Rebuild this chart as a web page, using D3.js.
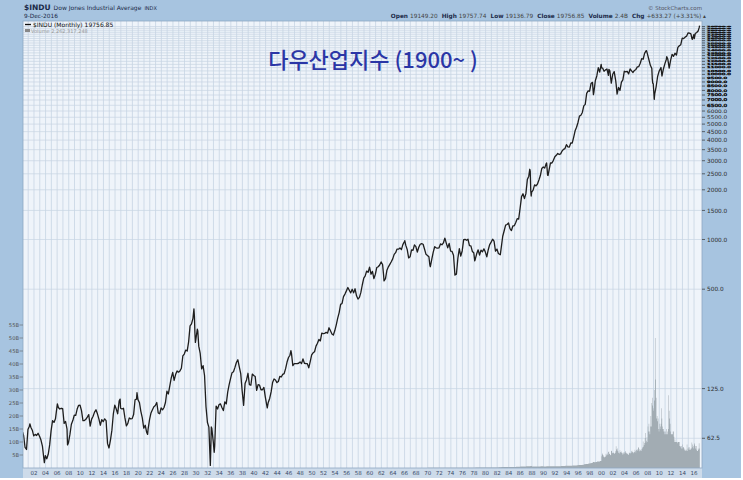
<!DOCTYPE html>
<html><head><meta charset="utf-8">
<script src="https://cdn.jsdelivr.net/npm/d3@7/dist/d3.min.js"></script>
<style>html,body{margin:0;padding:0;background:#fff;}svg{display:block;}</style>
</head><body><svg id="c" width="743" height="480"></svg>
<script>
// ---------- DATA ----------
const priceStartYear = 1900;
// quarter-end monthly closes (Mar, Jun, Sep, Dec), one row per year
const quarterlyCloses = [
  65.0, 55.0, 53.5, 70.7,     // 1900
  74.0, 73.0, 70.0, 64.6,     // 1901
  66.0, 65.0, 67.0, 64.3,     // 1902
  61.0, 56.0, 47.0, 49.1,     // 1903
  47.0, 50.0, 57.0, 69.6,     // 1904
  80.0, 78.0, 82.0, 96.2,     // 1905
  96.0, 94.0, 95.0, 94.4,     // 1906
  77.0, 79.0, 71.0, 58.8,     // 1907
  66.0, 76.0, 80.0, 86.2,     // 1908
  86.0, 94.0, 99.0, 99.1,     // 1909
  92.0, 80.0, 80.0, 81.4,     // 1910
  84.0, 87.0, 74.0, 81.7,     // 1911
  85.0, 90.0, 93.0, 87.9,     // 1912
  82.0, 75.0, 81.0, 78.8,     // 1913
  82.0, 80.0, 58.0, 54.6,     // 1914
  61.0, 70.0, 88.0, 99.2,     // 1915
  94.0, 88.0, 105.0, 95.0,    // 1916
  94.0, 95.0, 83.0, 74.4,     // 1917
  77.0, 83.0, 82.0, 82.2,     // 1918
  87.0, 107.0, 108.0, 107.2,  // 1919
  103.0, 91.0, 83.0, 72.0,    // 1920
  75.0, 68.0, 71.0, 81.1,     // 1921
  89.0, 93.0, 97.0, 98.7,     // 1922
  103.0, 89.0, 88.0, 95.5,    // 1923
  93.0, 96.0, 103.0, 120.5,   // 1924
  116.0, 130.0, 145.0, 156.7, // 1925
  140.0, 152.0, 160.0, 157.2, // 1926
  160.0, 166.0, 197.0, 202.4, // 1927
  214.0, 211.0, 240.0, 300.0, // 1928
  308.0, 333.0, 343.0, 248.5, // 1929
  286.0, 226.0, 204.0, 164.6, // 1930
  172.0, 150.0, 97.0, 77.9,   // 1931
  73.0, 42.8, 72.0, 59.9,     // 1932
  55.7, 98.0, 94.0, 99.9,     // 1933
  101.0, 96.0, 92.0, 104.0,   // 1934
  101.0, 119.0, 132.0, 144.1, // 1935
  156.0, 158.0, 168.0, 179.9, // 1936
  187.0, 169.0, 154.0, 120.9, // 1937
  99.0, 134.0, 141.0, 154.8,  // 1938
  132.0, 131.0, 153.0, 150.2, // 1939
  148.0, 122.0, 132.0, 131.1, // 1940
  123.0, 123.0, 127.0, 111.0, // 1941
  99.0, 103.0, 109.0, 119.4,  // 1942
  136.0, 143.0, 141.0, 135.9, // 1943
  138.0, 148.0, 147.0, 152.3, // 1944
  154.0, 165.0, 181.0, 192.9, // 1945
  199.0, 206.0, 172.0, 177.2, // 1946
  177.0, 177.0, 178.0, 181.2, // 1947
  177.0, 189.0, 178.0, 177.3, // 1948
  177.0, 167.0, 182.0, 200.1, // 1949
  206.0, 209.0, 226.0, 235.4, // 1950
  248.0, 243.0, 271.0, 269.2, // 1951
  270.0, 274.0, 271.0, 291.9, // 1952
  280.0, 268.0, 264.0, 280.9, // 1953
  304.0, 334.0, 361.0, 404.4, // 1954
  410.0, 451.0, 467.0, 488.4, // 1955
  512.0, 493.0, 475.0, 499.5, // 1956
  475.0, 503.0, 456.0, 435.7, // 1957
  446.0, 478.0, 532.0, 583.7, // 1958
  602.0, 644.0, 632.0, 679.4, // 1959
  616.0, 641.0, 580.0, 615.9, // 1960
  677.0, 684.0, 701.0, 731.1, // 1961
  706.0, 561.0, 579.0, 652.1, // 1962
  683.0, 707.0, 733.0, 763.0, // 1963
  813.0, 832.0, 875.0, 874.1, // 1964
  889.0, 868.0, 931.0, 969.3, // 1965
  924.0, 870.0, 774.0, 785.7, // 1966
  865.0, 860.0, 927.0, 905.1, // 1967
  840.0, 898.0, 936.0, 943.8, // 1968
  936.0, 873.0, 813.0, 800.4, // 1969
  786.0, 684.0, 761.0, 838.9, // 1970
  904.0, 891.0, 887.0, 890.2, // 1971
  940.0, 929.0, 953.0, 1020.0,// 1972
  951.0, 891.0, 947.0, 850.9, // 1973
  847.0, 802.0, 608.0, 616.2, // 1974
  769.0, 879.0, 794.0, 852.4, // 1975
  999.0, 1003.0, 990.0, 1004.7, // 1976
  919.0, 916.0, 847.0, 831.2, // 1977
  757.0, 819.0, 866.0, 805.0, // 1978
  862.0, 842.0, 878.0, 838.7, // 1979
  786.0, 867.0, 932.0, 964.0, // 1980
  1004.0, 977.0, 850.0, 875.0,   // 1981
  823.0, 812.0, 896.0, 1046.5,   // 1982
  1130.0, 1222.0, 1233.0, 1258.6,// 1983
  1165.0, 1133.0, 1207.0, 1211.6,// 1984
  1267.0, 1336.0, 1329.0, 1546.7,// 1985
  1819.0, 1893.0, 1768.0, 1896.0,// 1986
  2305.0, 2419.0, 2596.0, 1938.8,// 1987
  1989.0, 2142.0, 2113.0, 2168.6,// 1988
  2294.0, 2440.0, 2693.0, 2753.2,// 1989
  2707.0, 2881.0, 2453.0, 2633.7,// 1990
  2914.0, 2907.0, 3017.0, 3168.8,// 1991
  3236.0, 3319.0, 3272.0, 3301.1,// 1992
  3435.0, 3516.0, 3555.0, 3754.1,// 1993
  3636.0, 3625.0, 3843.0, 3834.4,// 1994
  4158.0, 4556.0, 4789.0, 5117.1,// 1995
  5587.0, 5655.0, 5882.0, 6448.3,// 1996
  6584.0, 7673.0, 7945.0, 7908.3,// 1997
  8800.0, 8952.0, 7843.0, 9181.4,// 1998
  9786.0, 10971.0, 10337.0, 11497.1, // 1999
  10922.0, 10448.0, 10651.0, 10786.9,// 2000
  9879.0, 10502.0, 8848.0, 10021.5,  // 2001
  10404.0, 9243.0, 7592.0, 8341.6,   // 2002
  7992.0, 8985.0, 9275.0, 10453.9,   // 2003
  10358.0, 10435.0, 10080.0, 10783.0,// 2004
  10504.0, 10275.0, 10569.0, 10717.5,// 2005
  11109.0, 11150.0, 11679.0, 12463.2,// 2006
  12354.0, 13409.0, 13896.0, 13264.8,// 2007
  12263.0, 11350.0, 10851.0, 8776.4, // 2008
  7609.0, 8447.0, 9712.0, 10428.0,   // 2009
  10857.0, 9774.0, 10788.0, 11577.5, // 2010
  12320.0, 12414.0, 10913.0, 12217.6,// 2011
  13212.0, 12880.0, 13437.0, 13104.1,// 2012
  14579.0, 14910.0, 15130.0, 16576.7,// 2013
  16458.0, 16827.0, 17043.0, 17823.1,// 2014
  17776.0, 17620.0, 16285.0, 17425.0,// 2015
  17685.0, 17930.0, 18308.0, 19756.85 // 2016
];
// additional monthly closes at turning points: [year, monthIndex, close]
const extraCloses = [
  [1900,0,68.1],[1901,3,76.5],[1903,9,44.5],[1906,0,101],[1907,9,57],
  [1914,6,71.4],[1916,10,108],[1919,9,118],[1921,7,66],
  [1929,7,380],[1929,9,273],[1929,10,238],[1930,3,279],
  [1932,6,54.3],[1932,7,73.2],[1933,1,51.4],[1942,3,95.4],[1946,4,212],
  [1962,4,613],[1966,0,984],[1970,4,700],[1973,0,999],[1974,10,619],
  [1978,1,742],[1982,6,809],[1987,7,2663],[1987,9,1994],[1987,10,1834],
  [1990,6,2905],[1990,9,2442],[1998,7,7539],[2000,0,10941],[2001,3,10735],
  [2002,6,8737],[2007,9,13930],[2008,9,9325],[2008,10,8829],[2009,1,7063],
  [2010,3,11009],[2011,3,12811],[2015,7,16528],[2016,0,16466],[2016,10,19124]
];
// volume, billions of shares per month
const volQuarterStart = 1970;
const volumeQuarterly = [
  0.06,0.06,0.07,0.07, 0.07,0.07,0.07,0.07, 0.07,0.08,0.07,0.08, 0.08,0.08,0.08,0.08, 0.08,0.08,0.09,0.09, // 1970-74
  0.10,0.10,0.10,0.11, 0.11,0.11,0.11,0.12, 0.12,0.12,0.13,0.13, 0.14,0.15,0.15,0.15, 0.15,0.16,0.17,0.17, // 1975-79
  0.20,0.20,0.22,0.22, 0.22,0.22,0.22,0.23, 0.24,0.25,0.32,0.34, 0.36,0.36,0.38,0.38, 0.38,0.36,0.38,0.40, // 1980-84
  0.42,0.44,0.44,0.50, 0.55,0.58,0.55,0.58, 0.70,0.65,0.68,0.80, 0.55,0.55,0.55,0.56, 0.60,0.62,0.64,0.66, // 1985-89
  0.62,0.62,0.64,0.64, 0.68,0.68,0.66,0.70, 0.70,0.70,0.70,0.72, 0.76,0.78,0.80,0.84, 0.86,0.84,0.84,0.86, // 1990-94
  0.92,0.98,1.00,1.05, 1.12,1.15,1.15,1.25, 1.40,1.50,1.55,1.75, 1.80,1.90,2.30,2.20, 2.30,2.50,2.50,2.70  // 1995-99
];
const volMonthStart = 2000;
const volumeMonthly = [
  4.5,5.2,5.6,5.0,4.4,4.3,4.0,4.2,4.4,5.5,4.8,5.2,        // 2000
  5.6,5.0,6.2,6.3,5.5,5.4,5.0,4.9,6.5,6.6,5.9,5.7,        // 2001
  6.0,5.8,5.5,5.6,5.8,6.4,8.4,7.2,6.7,7.5,6.4,5.8,        // 2002
  6.0,5.6,6.8,6.2,6.0,6.3,5.8,5.2,5.9,6.0,5.3,5.6,        // 2003
  6.2,6.0,6.5,5.9,5.6,5.4,5.6,5.0,5.2,6.0,5.8,5.5,        // 2004
  5.8,5.9,6.4,6.6,6.1,6.2,5.7,6.0,6.2,7.0,6.5,6.0,        // 2005
  7.0,6.8,7.2,6.6,8.0,7.8,7.2,6.4,6.6,7.0,7.2,6.5,        // 2006
  7.5,8.0,10.2,8.2,8.8,9.6,11.5,13.5,9.8,10.5,11.8,10.0,  // 2007
  16.0,14.0,17.0,14.0,13.0,16.0,20.0,16.0,25.0,27.0,24.0,22.0, // 2008
  23.0,26.0,30.0,50.0,34.0,27.0,19.0,20.0,18.0,19.0,15.0,14.0, // 2009
  17.0,15.0,16.0,17.0,23.0,19.0,16.0,15.0,15.0,14.0,14.0,13.0, // 2010
  14.0,13.0,15.0,13.0,13.0,14.0,15.0,28.0,22.0,19.0,17.0,14.0, // 2011
  13.0,13.0,13.0,13.0,14.0,14.0,12.0,10.0,11.0,10.0,10.0,10.0, // 2012
  10.0,9.5,10.0,10.0,10.0,10.0,8.5,8.0,8.5,8.5,7.5,7.5,   // 2013
  9.0,8.0,8.0,7.5,7.0,6.5,7.0,6.5,7.0,9.0,6.5,7.5,        // 2014
  8.0,7.0,8.0,7.0,7.0,7.5,7.5,9.8,9.0,8.0,7.5,8.5,        // 2015
  9.5,9.0,8.5,7.5,7.0,8.5,6.5,6.5,7.5,7.0,9.5,7.5         // 2016
];
const priceTicks = [62.5,125,500,1000,1500,2000,2500,3000,3500,4000,4500,5000,5500,6000,6500,7000,7500,8000,8500,9000,9500,10000,10500,11000,11500,12000,12500,13000,13500,14000,14500,15000,15500,16000,16500,17000,17500,18000,18500,19000,19500];
const volumeTicks = [5,10,15,20,25,30,35,40,45,50,55];
const volumeTickLabels = ["5B","10B","15B","20B","25B","30B","35B","40B","45B","50B","55B"];
const yearTickLabels = ["02","04","06","08","10","12","14","16","18","20","22","24","26","28","30","32","34","36","38","40","42","44","46","48","50","52","54","56","58","60","62","64","66","68","70","72","74","76","78","80","82","84","86","88","90","92","94","96","98","00","02","04","06","08","10","12","14","16"];
const yearTicks = d3.range(1902, 2017, 2);

// ---------- BUILD TABLES ----------
const prices = quarterlyCloses.map((c,i)=>({t: priceStartYear + Math.floor(i/4) + (3*(i%4)+2.5)/12, c}))
  .concat(extraCloses.map(([y,m,c])=>({t: y + (m+0.5)/12, c})))
  .sort((a,b)=>a.t-b.t);
const vols = volumeQuarterly.map((v,i)=>({t: volQuarterStart + i/4, v}))
  .concat(volumeMonthly.map((v,i)=>({t: volMonthStart + i/12, v})));
vols.push({t: volMonthStart + volumeMonthly.length/12, v: volumeMonthly[volumeMonthly.length-1]});

// ---------- LAYOUT ----------
const P = {l:23, r:702, t:21, b:468};
const svg = d3.select('#c');
const FONT = "'DejaVu Sans', Verdana, sans-serif";
const BLUE = '#a7c4e0', PLOT = '#eff4fa', GRID = '#c7d4e3';

const x = d3.scaleLinear().domain([1900, 2017]).range([22.4, 22.4 + 117*5.79]);
const y = d3.scaleLog().domain([41.3, 21060]).range([P.b, P.t]);
const vy = d3.scaleLinear().domain([0, 55]).range([P.b, 325]);

svg.append('rect').attr('x',0).attr('y',0).attr('width',741).attr('height',478).attr('fill',BLUE);
svg.append('rect').attr('x',P.l).attr('y',P.b).attr('width',P.r-P.l).attr('height',10).attr('fill','#cddbea');
svg.append('rect').attr('x',P.l).attr('y',P.t).attr('width',P.r-P.l).attr('height',P.b-P.t).attr('fill',PLOT);

svg.append('defs').append('clipPath').attr('id','clip').append('rect')
  .attr('x',P.l).attr('y',P.t).attr('width',P.r-P.l).attr('height',P.b-P.t);
const g = svg.append('g').attr('clip-path','url(#clip)');

// grid
g.append('g').selectAll('line').data(d3.range(1900, 2017)).join('line')
  .attr('x1',d=>x(d)).attr('x2',d=>x(d)).attr('y1',P.t).attr('y2',P.b)
  .attr('stroke',GRID).attr('stroke-width',0.8);
g.append('g').selectAll('line').data(priceTicks).join('line')
  .attr('x1',P.l).attr('x2',P.r).attr('y1',d=>y(d)).attr('y2',d=>y(d))
  .attr('stroke',GRID).attr('stroke-width',0.7);

// volume
g.append('path').datum(vols)
  .attr('d', d3.area().curve(d3.curveStepAfter).x(d=>x(d.t)).y0(P.b).y1(d=>vy(d.v)))
  .attr('fill','#a2acb3');

// price line
g.append('path').datum(prices)
  .attr('d', d3.line().x(d=>x(d.t)).y(d=>y(d.c)))
  .attr('fill','none').attr('stroke','#1e1e1e').attr('stroke-width',1.3).attr('stroke-linejoin','round');

svg.append('rect').attr('x',P.l).attr('y',P.t).attr('width',P.r-P.l).attr('height',P.b-P.t)
  .attr('fill','none').attr('stroke','#8ea8c4').attr('stroke-width',0.8);

// right axis: crowded labels are squeezed vertically to the room between ticks
const ra = svg.append('g');
ra.selectAll('line').data(priceTicks).join('line')
  .attr('x1',P.r).attr('x2',P.r+3).attr('y1',d=>y(d)).attr('y2',d=>y(d)).attr('stroke','#333').attr('stroke-width',0.7);
const gapOf = (d,i) => {
  const up = i < priceTicks.length-1 ? y(d) - y(priceTicks[i+1]) : 99;
  const dn = i > 0 ? y(priceTicks[i-1]) - y(d) : 99;
  return Math.min(up, dn);
};
ra.selectAll('text').data(priceTicks).join('text')
  .attr('font-family',FONT).attr('fill','#2a2a2a')
  .text(d=>d3.format('.1f')(d))
  .each(function(d,i){
    const el = d3.select(this).attr('font-size',5.8);
    const w = this.getComputedTextLength();
    const fs = Math.min(5.8, gapOf(d,i)*0.8);
    el.attr('font-size',fs).attr('x',707).attr('y',y(d)+fs*0.36)
      .attr('textLength',w).attr('lengthAdjust','spacingAndGlyphs');
    if (fs < 4.5) el.attr('fill','#111').attr('stroke','#111').attr('stroke-width',0.35);
  });

// left volume axis
const la = svg.append('g');
la.selectAll('line').data(volumeTicks).join('line')
  .attr('x1',19.5).attr('x2',P.l).attr('y1',d=>vy(d)).attr('y2',d=>vy(d)).attr('stroke','#666').attr('stroke-width',0.6);
la.selectAll('text').data(volumeTicks).join('text')
  .attr('x',19).attr('y',d=>vy(d)+2).attr('text-anchor','end').attr('font-family',FONT).attr('font-size',5.2).attr('fill','#555')
  .text((d,i)=>volumeTickLabels[i]);

// x axis labels
svg.append('g').selectAll('text').data(yearTicks).join('text')
  .attr('x',d=>x(d)).attr('y',475).attr('text-anchor','middle').attr('font-family',FONT).attr('font-size',5.5).attr('fill','#3a4a68')
  .text((d,i)=>yearTickLabels[i]);

// header
const h1 = svg.append('text').attr('x',24).attr('y',10).attr('font-family',FONT).attr('fill','#1b2a48');
h1.append('tspan').attr('font-weight','bold').attr('font-size',7.5).text('$INDU');
h1.append('tspan').attr('font-size',6).attr('dx',3).text('Dow Jones Industrial Average');
h1.append('tspan').attr('font-size',5).attr('dx',3).text('INDX');
svg.append('text').attr('x',24).attr('y',18).attr('font-family',FONT).attr('font-size',5.8).attr('fill','#1b2a48').text('9-Dec-2016');

svg.append('text').attr('x',702).attr('y',10).attr('text-anchor','end').attr('font-family',FONT).attr('font-size',5.5).attr('fill','#556').text('© StockCharts.com');
const h2 = svg.append('text').attr('x',706).attr('y',18).attr('text-anchor','end').attr('font-family',FONT).attr('font-size',5.8).attr('fill','#1b2a48');
[['Open','19149.20'],['High','19757.74'],['Low','19136.79'],['Close','19756.85'],['Volume','2.4B'],['Chg','+633.27 (+3.31%) ▴']].forEach(([k,v],i)=>{
  h2.append('tspan').attr('font-weight','bold').attr('dx', i?4:0).text(k);
  h2.append('tspan').attr('dx',2).attr('fill','#444').text(v);
});

// legend
svg.append('line').attr('x1',25).attr('x2',31).attr('y1',24.5).attr('y2',24.5).attr('stroke','#111').attr('stroke-width',1.3);
svg.append('text').attr('x',33).attr('y',26.5).attr('font-family',FONT).attr('font-size',6).attr('fill','#111').text('$INDU (Monthly) 19756.85');
svg.append('rect').attr('x',25).attr('y',29).attr('width',5).attr('height',3).attr('fill','#888');
svg.append('text').attr('x',31).attr('y',32.5).attr('font-family',FONT).attr('font-size',5).attr('fill','#999').text('Volume 2,262,317,248');

// title
svg.append('text').attr('x',373).attr('y',67.5).attr('text-anchor','middle')
  .attr('font-family',"'Noto Sans CJK KR', sans-serif").attr('font-size',22).attr('font-weight',500)
  .attr('fill','#2b36a6').text('다우산업지수 (1900~ )');
</script></body></html>
